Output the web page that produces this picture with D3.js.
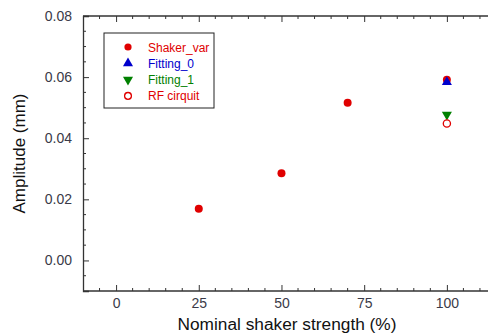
<!DOCTYPE html>
<meta charset="utf-8">
<style>
	body { margin: 0; font-family: Arial, "Liberation Sans", sans-serif; background: #fff; }
	.axis path, .axis line { stroke: #333; fill: none; }
	.tick text { fill: #3a3a48; font-size: 14px; }
</style>
<body>
<svg id="chart" width="488" height="335"></svg>
<script src="https://d3js.org/d3.v7.min.js"></script>
<script>
	// data
	var shakerX = [25, 50, 70, 100];
	var shakerY = [0.0169, 0.0285, 0.0516, 0.0591];
	var fit0X = [100], fit0Y = [0.0584];
	var fit1X = [100], fit1Y = [0.0477];
	var rfX = [100], rfY = [0.0448];
	var xTicks = [0, 25, 50, 75, 100];
	var yTicks = [0, 0.02, 0.04, 0.06, 0.08];
	var legendNames = ["Shaker_var", "Fitting_0", "Fitting_1", "RF cirquit"];

	var svg = d3.select("#chart"),
	margin = {top: 16, left: 83, bottom: 291},
	x = d3.scaleLinear().domain([-10, 120]).range([margin.left, margin.left + 130 * 3.308]),
	y = d3.scaleLinear().domain([-0.01, 0.08]).range([margin.bottom, margin.top]);

	var minorX = d3.range(-5, 121, 5).filter(function(d){ return d % 25 != 0; });
	var minorY = d3.range(-0.005, 0.0801, 0.005).filter(function(d){ return Math.abs(Math.round(d * 1000) % 20) > 0.5; });

	function axisX(g, orient, labels) {
		var ax = (orient == "bottom" ? d3.axisBottom(x) : d3.axisTop(x));
		g.call(ax.tickValues(xTicks).tickSize(-6).tickPadding(labels ? 7 : 4).tickFormat(labels ? d3.format("d") : ""));
		g.select(".domain").attr("d", "M" + x.range()[0] + ",0H" + x.range()[1]);
		g.selectAll(".minor").data(minorX).enter().append("line")
			.attr("class", "minor")
			.attr("x1", function(d){ return x(d); }).attr("x2", function(d){ return x(d); })
			.attr("y1", 0).attr("y2", orient == "bottom" ? -3 : 3)
			.attr("stroke", "#333");
	}

	var gxb = svg.append("g").attr("class", "axis").attr("transform", "translate(0," + margin.bottom + ")");
	axisX(gxb, "bottom", true);
	var gxt = svg.append("g").attr("class", "axis").attr("transform", "translate(0," + margin.top + ")");
	axisX(gxt, "top", false);

	var gy = svg.append("g").attr("class", "axis").attr("transform", "translate(" + margin.left + ",0)");
	gy.call(d3.axisLeft(y).tickValues(yTicks).tickSize(-6).tickPadding(11).tickFormat(d3.format(".2f")));
	gy.selectAll(".minor").data(minorY).enter().append("line")
		.attr("class", "minor")
		.attr("y1", function(d){ return y(d); }).attr("y2", function(d){ return y(d); })
		.attr("x1", 0).attr("x2", 3)
		.attr("stroke", "#333");
	svg.selectAll(".axis path").attr("stroke-width", 1.3);

	// axis titles
	svg.append("text")
		.attr("transform", "translate(25," + ((margin.top + margin.bottom) / 2) + ") rotate(-90)")
		.attr("text-anchor", "middle")
		.style("font-size", "17px").style("fill", "#111")
		.text("Amplitude  (mm)");
	svg.append("text")
		.attr("x", 287).attr("y", 330)
		.attr("text-anchor", "middle")
		.style("font-size", "17.3px").style("fill", "#111")
		.text("Nominal shaker strength (%)");

	var red = "#e00000", blue = "#0000cc", green = "#008000";
	var sym = d3.symbol().type(d3.symbolTriangle).size(44);

	// Shaker_var
	svg.selectAll(".shk").data(shakerX).enter().append("circle")
		.attr("class", "shk")
		.attr("cx", function(d){ return x(d); })
		.attr("cy", function(d, i){ return y(shakerY[i]); })
		.attr("r", 4).attr("fill", red);
	// Fitting_0
	svg.selectAll(".f0").data(fit0X).enter().append("path")
		.attr("class", "f0").attr("d", sym)
		.attr("transform", function(d, i){ return "translate(" + x(d) + "," + y(fit0Y[i]) + ")"; })
		.attr("fill", blue);
	// Fitting_1
	svg.selectAll(".f1").data(fit1X).enter().append("path")
		.attr("class", "f1").attr("d", sym)
		.attr("transform", function(d, i){ return "translate(" + x(d) + "," + y(fit1Y[i]) + ") rotate(180)"; })
		.attr("fill", green);
	// RF cirquit
	svg.selectAll(".rf").data(rfX).enter().append("circle")
		.attr("class", "rf")
		.attr("cx", function(d){ return x(d); })
		.attr("cy", function(d, i){ return y(rfY[i]); })
		.attr("r", 3.6).attr("fill", "none").attr("stroke", red).attr("stroke-width", 1.3);

	// legend
	var lg = svg.append("g").attr("transform", "translate(104,33)");
	lg.append("rect").attr("width", 110).attr("height", 75)
		.attr("fill", "white").attr("stroke", "#222").attr("stroke-width", 1);
	var colors = [red, blue, green, red];
	legendNames.forEach(function(name, i){
		var cy = 14 + i * 16.3;
		var item = lg.append("g").attr("transform", "translate(24," + cy + ")");
		if (i == 0) item.append("circle").attr("r", 3.6).attr("fill", red);
		if (i == 1) item.append("path").attr("d", sym).attr("fill", blue);
		if (i == 2) item.append("path").attr("d", sym).attr("transform", "rotate(180)").attr("fill", green);
		if (i == 3) item.append("circle").attr("r", 3.4).attr("fill", "none").attr("stroke", red).attr("stroke-width", 1.3);
		lg.append("text").attr("x", 44).attr("y", cy + 4.5)
			.style("font-size", "12px").style("fill", colors[i])
			.text(name);
	});
</script>
</body>
